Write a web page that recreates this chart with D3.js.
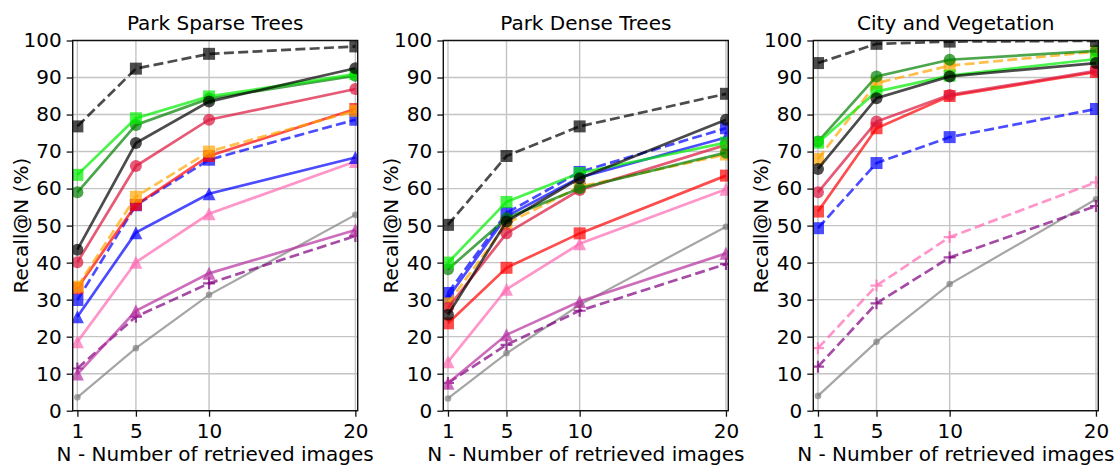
<!DOCTYPE html>
<html>
<head>
<meta charset="utf-8">
<script src="https://cdn.jsdelivr.net/npm/d3@7/dist/d3.min.js"></script>
<style>
  html, body { margin: 0; padding: 0; background: #fff; }
  svg { display: block; font-family: "DejaVu Sans", sans-serif; }
</style>
</head>
<body>
<script>
// ---------------- DATA ----------------
const nValues = [1, 5, 10, 20];
const xTicks = [1, 5, 10, 20];
const yTicks = [0, 10, 20, 30, 40, 50, 60, 70, 80, 90, 100];
const panelTitles = ["Park Sparse Trees", "Park Dense Trees", "City and Vegetation"];
const xLabel = "N - Number of retrieved images";
const yLabel = "Recall@N (%)";

// series keys in drawing order
const seriesKeys = ["gray", "purpleDash", "pinkDash", "magentaTri", "pinkTri", "blueTri",
  "blueDash", "red", "orangeDash", "crimson", "darkGreen", "lime", "black", "blackDash"];

// Park Sparse Trees
const sparseGray       = [3.6, 16.9, 31.3, 52.9];
const sparsePurpleDash = [11.4, 25.4, 34.4, 47.2];
const sparsePinkDash   = null;
const sparseMagentaTri = [9.9, 27.0, 37.1, 48.8];
const sparsePinkTri    = [18.6, 40.1, 53.2, 67.3];
const sparseBlueTri    = [25.4, 48.1, 58.6, 68.4];
const sparseBlueDash   = [29.9, 55.5, 67.8, 78.6];
const sparseRed        = [33.1, 55.6, 68.8, 81.5];
const sparseOrangeDash = [33.5, 57.8, 70.0, 81.0];
const sparseCrimson    = [40.1, 66.1, 78.6, 86.9];
const sparseDarkGreen  = [59.0, 77.2, 84.3, 90.5];
const sparseLime       = [63.7, 79.0, 84.9, 90.9];
const sparseBlack      = [43.5, 72.3, 83.5, 92.5];
const sparseBlackDash  = [76.8, 92.4, 96.4, 98.4];

// Park Dense Trees
const denseGray       = [3.3, 15.5, 28.6, 49.7];
const densePurpleDash = [7.5, 17.8, 27.0, 39.6];
const densePinkDash   = null;
const denseMagentaTri = [7.4, 20.5, 29.5, 42.5];
const densePinkTri    = [13.2, 32.8, 45.1, 59.8];
const denseBlueTri    = [30.5, 52.5, 63.0, 73.8];
const denseBlueDash   = [31.8, 53.4, 64.5, 76.3];
const denseRed        = [23.6, 38.6, 47.9, 63.5];
const denseOrangeDash = [29.0, 50.5, 60.5, 69.2];
const denseCrimson    = [27.8, 47.9, 59.6, 71.8];
const denseDarkGreen  = [38.2, 52.0, 60.1, 69.7];
const denseLime       = [40.0, 56.4, 64.2, 72.4];
const denseBlack      = [25.9, 51.1, 62.8, 78.6];
const denseBlackDash  = [50.2, 68.8, 76.8, 85.6];

// City and Vegetation
const cityGray       = [4.0, 18.6, 34.2, 57.1];
const cityPurpleDash = [11.9, 29.0, 41.4, 55.3];
const cityPinkDash   = [16.9, 33.8, 46.9, 61.7];
const cityMagentaTri = null;
const cityPinkTri    = null;
const cityBlueTri    = null;
const cityBlueDash   = [49.3, 66.9, 73.9, 81.5];
const cityRed        = [53.8, 76.3, 85.0, 91.5];
const cityOrangeDash = [68.0, 88.5, 93.2, 97.0];
const cityCrimson    = [59.0, 78.1, 85.3, 91.8];
const cityDarkGreen  = [72.7, 90.3, 94.8, 97.2];
const cityLime       = [72.4, 86.2, 90.5, 95.0];
const cityBlack      = [65.3, 84.4, 90.3, 93.9];
const cityBlackDash  = [93.9, 99.1, 99.7, 99.9];

const panelData = [
  [sparseGray, sparsePurpleDash, sparsePinkDash, sparseMagentaTri, sparsePinkTri, sparseBlueTri,
   sparseBlueDash, sparseRed, sparseOrangeDash, sparseCrimson, sparseDarkGreen, sparseLime, sparseBlack, sparseBlackDash],
  [denseGray, densePurpleDash, densePinkDash, denseMagentaTri, densePinkTri, denseBlueTri,
   denseBlueDash, denseRed, denseOrangeDash, denseCrimson, denseDarkGreen, denseLime, denseBlack, denseBlackDash],
  [cityGray, cityPurpleDash, cityPinkDash, cityMagentaTri, cityPinkTri, cityBlueTri,
   cityBlueDash, cityRed, cityOrangeDash, cityCrimson, cityDarkGreen, cityLime, cityBlack, cityBlackDash]
];

// ---------------- STYLES ----------------
const styles = {
  gray:       { color: "#808080", dash: false, marker: "circle", msize: 3.3, lw: 2.2 },
  purpleDash: { color: "#800080", dash: true,  marker: "plus",   msize: 6,   lw: 2.7 },
  pinkDash:   { color: "#ff69b4", dash: true,  marker: "plus",   msize: 6,   lw: 2.7 },
  magentaTri: { color: "#b8309f", dash: false, marker: "triangle", msize: 6.5, lw: 2.7 },
  pinkTri:    { color: "#ff69b4", dash: false, marker: "triangle", msize: 6.5, lw: 2.7 },
  blueTri:    { color: "#0000ff", dash: false, marker: "triangle", msize: 6.5, lw: 2.7 },
  blueDash:   { color: "#0000ff", dash: true,  marker: "square", msize: 6,   lw: 2.7 },
  red:        { color: "#ff0000", dash: false, marker: "square", msize: 6,   lw: 2.7 },
  orangeDash: { color: "#ffa500", dash: true,  marker: "square", msize: 6,   lw: 2.7 },
  crimson:    { color: "#dc143c", dash: false, marker: "circle", msize: 6,   lw: 2.7 },
  darkGreen:  { color: "#008000", dash: false, marker: "circle", msize: 6,   lw: 2.7 },
  lime:       { color: "#00ee00", dash: false, marker: "square", msize: 6,   lw: 2.7 },
  black:      { color: "#000000", dash: false, marker: "circle", msize: 6,   lw: 2.7 },
  blackDash:  { color: "#000000", dash: true,  marker: "square", msize: 6,   lw: 2.7 }
};
const ALPHA = 0.7;
const FONT = "20px";

// ---------------- LAYOUT ----------------
const W = 1117, H = 466;
const panelLefts = [72.7, 443.3, 813.3];
const panelTop = 40.5, panelW = 285, panelH = 370.2;

const svg = d3.select("body").append("svg").attr("width", W).attr("height", H);

panelData.forEach((series, pi) => {
  const g = svg.append("g").attr("transform", `translate(${panelLefts[pi]},${panelTop})`);
  const x = d3.scaleLinear().domain([0.68, 20.16]).range([0, panelW]);
  const y = d3.scaleLinear().domain([0, 100]).range([panelH, 0]);

  const clipId = "clip" + pi;
  g.append("clipPath").attr("id", clipId).append("rect")
    .attr("x", 0).attr("y", 0).attr("width", panelW).attr("height", panelH);

  // grid
  const grid = g.append("g").attr("class", "grid");
  grid.selectAll("line.gy").data(yTicks).enter().append("line")
    .attr("x1", 0).attr("x2", panelW).attr("y1", d => y(d)).attr("y2", d => y(d))
    .attr("stroke", "#c4c4c4").attr("stroke-width", 1.4);
  grid.selectAll("line.gx").data(xTicks).enter().append("line")
    .attr("y1", 0).attr("y2", panelH).attr("x1", d => x(d)).attr("x2", d => x(d))
    .attr("stroke", "#c4c4c4").attr("stroke-width", 1.4);

  const plot = g.append("g").attr("clip-path", `url(#${clipId})`);
  const line = d3.line().x(d => x(d.n)).y(d => y(d.v));

  series.forEach((vals, si) => {
    if (!vals) return;
    const st = styles[seriesKeys[si]];
    const pts = vals.map((v, i) => ({ n: nValues[i], v }));
    plot.append("path").datum(pts).attr("d", line)
      .attr("fill", "none").attr("stroke", st.color).attr("stroke-opacity", ALPHA)
      .attr("stroke-width", st.lw)
      .attr("stroke-dasharray", st.dash ? `${3.7 * st.lw},${1.6 * st.lw}` : null);
    pts.forEach(p => {
      const cx = x(p.n), cy = y(p.v), s = st.msize;
      if (st.marker === "circle") {
        plot.append("circle").attr("cx", cx).attr("cy", cy).attr("r", s)
          .attr("fill", st.color).attr("fill-opacity", ALPHA);
      } else if (st.marker === "square") {
        plot.append("rect").attr("x", cx - s).attr("y", cy - s).attr("width", 2 * s).attr("height", 2 * s)
          .attr("fill", st.color).attr("fill-opacity", ALPHA);
      } else if (st.marker === "triangle") {
        plot.append("path")
          .attr("d", `M${cx},${cy - s}L${cx + s},${cy + s}L${cx - s},${cy + s}Z`)
          .attr("fill", st.color).attr("fill-opacity", ALPHA);
      } else if (st.marker === "plus") {
        plot.append("path")
          .attr("d", `M${cx - s},${cy}H${cx + s}M${cx},${cy - s}V${cy + s}`)
          .attr("fill", "none").attr("stroke", st.color).attr("stroke-opacity", ALPHA)
          .attr("stroke-width", 2.2);
      }
    });
  });

  // spines
  g.append("rect").attr("x", 0).attr("y", 0).attr("width", panelW).attr("height", panelH)
    .attr("fill", "none").attr("stroke", "#111").attr("stroke-width", 1.4);

  // axes
  const yAxis = g.append("g").call(d3.axisLeft(y).tickValues(yTicks).tickSize(6).tickPadding(5));
  const xAxis = g.append("g").attr("transform", `translate(0,${panelH})`)
    .call(d3.axisBottom(x).tickValues(xTicks).tickSize(6).tickPadding(7));
  [yAxis, xAxis].forEach(a => {
    a.select(".domain").remove();
    a.selectAll(".tick line").attr("stroke", "#111").attr("stroke-width", 1.3);
    a.selectAll(".tick text").attr("fill", "#000").style("font-size", FONT)
      .style("font-family", "DejaVu Sans, sans-serif");
  });

  // title
  g.append("text").attr("x", panelW / 2).attr("y", -11).attr("text-anchor", "middle")
    .style("font-size", FONT).attr("fill", "#000").text(panelTitles[pi]);
  // x label
  g.append("text").attr("x", panelW / 2).attr("y", panelH + 50.5).attr("text-anchor", "middle")
    .style("font-size", FONT).attr("fill", "#000").text(xLabel);
  // y label
  g.append("text").attr("transform", `translate(-45,${panelH / 2}) rotate(-90)`)
    .attr("text-anchor", "middle").style("font-size", FONT).attr("fill", "#000").text(yLabel);
});
</script>
</body>
</html>
